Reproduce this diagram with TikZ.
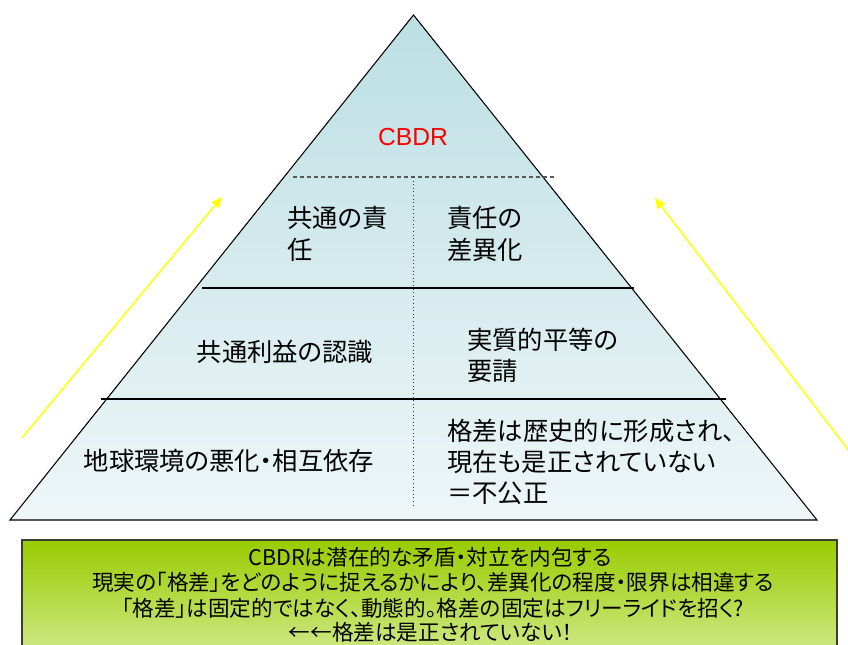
\documentclass[tikz,border=0pt]{standalone}
\usepackage{fontspec}
\setmainfont{Noto Sans CJK JP}[RawFeature={+palt}]
\newfontfamily\latinfont{Liberation Sans}
\usetikzlibrary{arrows.meta}
\definecolor{pyrtop}{RGB}{188,223,227}
\definecolor{pyrbot}{RGB}{238,246,248}
\definecolor{boxtop}{RGB}{153,204,0}
\definecolor{boxbot}{RGB}{204,231,128}
\definecolor{boxedge}{RGB}{60,60,60}
\definecolor{arrowyellow}{RGB}{255,255,0}
\definecolor{cbdrred}{RGB}{255,0,0}
\tikzset{
  pyrtext/.style={inner sep=0pt, align=left, font=\fontsize{19}{23.5}\selectfont},
  boxtext/.style={inner sep=0pt, align=center, font=\fontsize{16.2}{18.75}\selectfont},
  layerline/.style={line width=1.5pt, black},
  dashline/.style={dashed, dash pattern=on 3pt off 2.2pt, line width=0.9pt, black!65},
  dotline/.style={dotted, line width=0.7pt, black!80},
  risearrow/.style={arrowyellow, line width=1.1pt, -{Triangle[length=8pt,width=7pt]}}
}
\begin{document}
\begin{tikzpicture}[x=0.75pt,y=-0.75pt]
\useasboundingbox (0,0) rectangle (848,644);
\clip (0,0) rectangle (848,644);

% pyramid
\coordinate (apex) at (413.5,15);
\coordinate (bl) at (10,520);
\coordinate (br) at (817,520);
\shadedraw[top color=pyrtop, bottom color=pyrbot, draw=black, line width=0.8pt]
  (apex) -- (br) -- (bl) -- cycle;

% dashed and dotted dividers
\coordinate (d0) at (293,177);
\coordinate (d1) at (555,177);
\draw[dashline] (d0) -- (d1);
\coordinate (v0) at (413.5,177);
\coordinate (v1) at (413.5,508);
\draw[dotline] (v0) -- (v1);

% solid layer lines
\coordinate (l1a) at (202,288);
\coordinate (l1b) at (634,288);
\draw[layerline] (l1a) -- (l1b);
\coordinate (l2a) at (101,399);
\coordinate (l2b) at (726,399);
\draw[layerline] (l2a) -- (l2b);

% texts
\node[inner sep=0pt, text=cbdrred, font=\latinfont\fontsize{18.5}{20}\selectfont] (cbdr) at (413,137) {CBDR};
\node[pyrtext, anchor=west] (t1) at (287,234) {共通の責\\任};
\node[pyrtext, anchor=west] (t2) at (447,234) {責任の\\差異化};
\node[pyrtext] (t3) at (285,352) {共通利益の認識};
\node[pyrtext, anchor=west] (t4) at (467,355) {実質的平等の\\要請};
\node[pyrtext] (t5) at (229,461) {地球環境の悪化・相互依存};
\node[pyrtext, anchor=west] (t6) at (447,462) {格差は歴史的に形成され、\\現在も是正されていない\\＝不公正};

% arrows
\coordinate (la0) at (22,438);
\coordinate (la1) at (222,197);
\draw[risearrow] (la0) -- (la1);
\coordinate (ra0) at (860,465);
\coordinate (ra1) at (655,198);
\draw[risearrow] (ra0) -- (ra1);

% green box
\coordinate (g0) at (22,540);
\coordinate (g1) at (837,647);
\shadedraw[top color=boxtop, bottom color=boxbot, draw=boxedge, line width=1.1pt] (g0) rectangle (g1);
\node[boxtext] (b1) at (430,557) {CBDRは潜在的な矛盾・対立を内包する};
\node[boxtext] (b2) at (433,582) {現実の「格差」をどのように捉えるかにより、差異化の程度・限界は相違する};
\node[boxtext] (b3) at (433,608) {「格差」は固定的ではなく、動態的。格差の固定はフリーライドを招く?};
\node[boxtext] (b4) at (431,632) {←←格差は是正されていない！};
\end{tikzpicture}
\end{document}
